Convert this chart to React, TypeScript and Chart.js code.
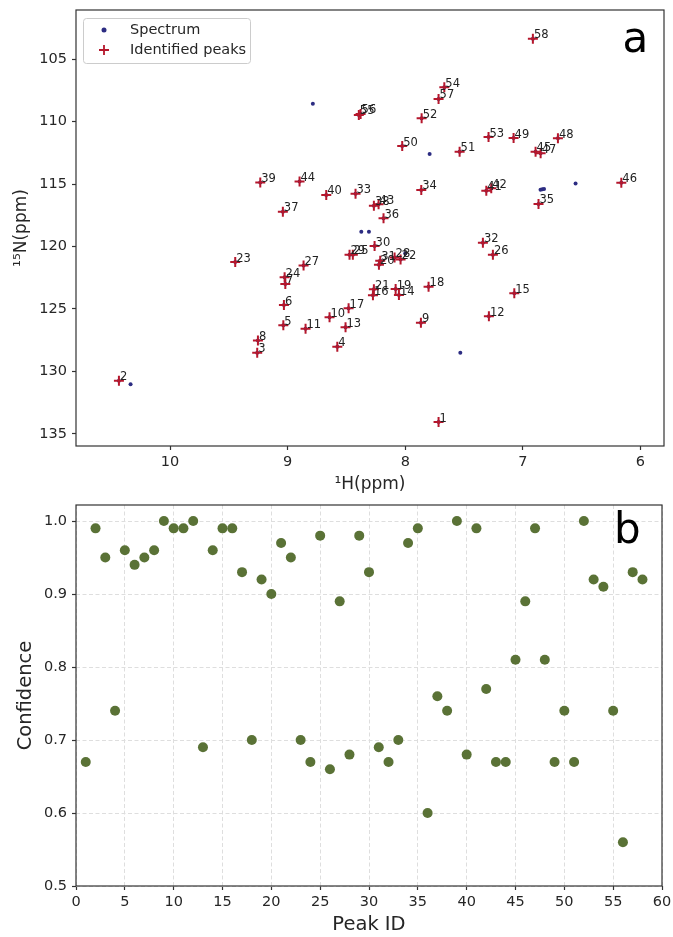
import React, { useEffect, useRef } from "react";
import { Chart, registerables } from "chart.js";
Chart.register(...registerables);

// ---------- Panel a: 1H-15N spectrum ----------
const peakIds = [
  1, 2, 3, 4, 5, 6, 7, 8, 9, 10, 11, 12, 13, 14, 15, 16, 17, 18, 19, 20,
  21, 22, 23, 24, 25, 26, 27, 28, 29, 30, 31, 32, 33, 34, 35, 36, 37, 38, 39, 40,
  41, 42, 43, 44, 45, 46, 47, 48, 49, 50, 51, 52, 53, 54, 55, 56, 57, 58,
];
const peakH = [
  7.717, 10.435, 9.259, 8.578, 9.037, 9.032, 9.02, 9.253, 7.867, 8.644,
  8.848, 7.289, 8.508, 8.054, 7.073, 8.275, 8.482, 7.802, 8.082, 8.224,
  8.267, 8.04, 9.446, 9.026, 8.446, 7.255, 8.865, 8.091, 8.474, 8.261,
  8.213, 7.34, 8.423, 7.864, 6.867, 8.185, 9.041, 8.267, 9.233, 8.672,
  7.311, 7.269, 8.227, 8.899, 6.892, 6.163, 6.849, 6.702, 7.079, 8.026,
  7.538, 7.861, 7.292, 7.668, 8.395, 8.38, 7.717, 6.915,
];
const peakN = [
  134.06, 130.75, 128.51, 128.03, 126.31, 124.69, 123.0, 127.52, 126.1, 125.67,
  126.58, 125.59, 126.47, 123.89, 123.75, 123.91, 124.95, 123.22, 123.41, 121.46,
  123.43, 121.03, 121.24, 122.47, 120.66, 120.66, 121.51, 120.87, 120.66, 119.96,
  121.14, 119.7, 115.77, 115.47, 116.59, 117.74, 117.21, 116.73, 114.86, 115.87,
  115.53, 115.34, 116.62, 114.78, 112.4, 114.89, 112.53, 111.33, 111.31, 111.95,
  112.4, 109.73, 111.23, 107.24, 109.46, 109.38, 108.18, 103.35,
];
// spectrum points that are not under an identified peak
const extraSpecH = [10.336, 8.786, 7.793, 6.552, 6.835, 6.85, 6.82, 8.374, 8.309, 7.532, 8.0];
const extraSpecN = [131.04, 108.56, 112.59, 114.94, 115.42, 115.46, 115.4, 118.81, 118.81, 128.51, 120.54];
const hTicks = [6, 7, 8, 9, 10];
const nTicks = [105, 110, 115, 120, 125, 130, 135];

// ---------- Panel b: confidence ----------
const confIds = peakIds;
const confidence = [
  0.67, 0.99, 0.95, 0.74, 0.96, 0.94, 0.95, 0.96, 1.0, 0.99,
  0.99, 1.0, 0.69, 0.96, 0.99, 0.99, 0.93, 0.7, 0.92, 0.9,
  0.97, 0.95, 0.7, 0.67, 0.98, 0.66, 0.89, 0.68, 0.98, 0.93,
  0.69, 0.67, 0.7, 0.97, 0.99, 0.6, 0.76, 0.74, 1.0, 0.68,
  0.99, 0.77, 0.67, 0.67, 0.81, 0.89, 0.99, 0.81, 0.67, 0.74,
  0.67, 1.0, 0.92, 0.91, 0.74, 0.56, 0.93, 0.92,
];
const idTicks = [0, 5, 10, 15, 20, 25, 30, 35, 40, 45, 50, 55, 60];
const confTicks = [0.5, 0.6, 0.7, 0.8, 0.9, 1.0];

const FONT = "'DejaVu Sans', sans-serif";
const SPEC_COLOR = "#2c2c82";
const PEAK_COLOR = "#b5172c";
const DOT_COLOR = "#5a7236";
const TEXT = "#262626";

const framePlugin = {
  id: "frame",
  afterDraw(chart: any) {
    const { ctx, chartArea: a } = chart;
    ctx.save();
    ctx.strokeStyle = "#333";
    ctx.lineWidth = 1.2;
    ctx.strokeRect(a.left, a.top, a.right - a.left, a.bottom - a.top);
    ctx.restore();
  },
};

const fitY = (w: number) => (s: any) => {
  s.width = w;
  s.paddingTop = 0;
  s.paddingBottom = 0;
};
const fitX = (h: number) => (s: any) => {
  s.height = h;
  s.paddingLeft = 0;
  s.paddingRight = 0;
};

export default function App() {
  const topRef = useRef<HTMLCanvasElement>(null);
  const botRef = useRef<HTMLCanvasElement>(null);

  useEffect(() => {
    const peakData = peakH.map((h, i) => ({ x: h, y: peakN[i] }));
    const specData = peakH
      .map((h, i) => ({ x: h, y: peakN[i] }))
      .concat(extraSpecH.map((h, i) => ({ x: h, y: extraSpecN[i] })));

    const labelPlugin = {
      id: "peakLabels",
      afterDatasetsDraw(chart: any) {
        const { ctx } = chart;
        const xs = chart.scales.x;
        const ys = chart.scales.y;
        ctx.save();
        ctx.fillStyle = "#222";
        ctx.font = `11.5px ${FONT}`;
        ctx.textAlign = "left";
        ctx.textBaseline = "alphabetic";
        peakIds.forEach((id, i) => {
          const px = xs.getPixelForValue(peakH[i]);
          const py = ys.getPixelForValue(peakN[i]);
          ctx.fillText(String(id), px + 1, py - 0.5);
        });
        // legend
        ctx.fillStyle = "rgba(255,255,255,0.85)";
        ctx.strokeStyle = "#cccccc";
        ctx.lineWidth = 1;
        ctx.beginPath();
        (ctx as any).roundRect(83.5, 18.5, 167, 45, 3);
        ctx.fill();
        ctx.stroke();
        ctx.fillStyle = SPEC_COLOR;
        ctx.beginPath();
        ctx.arc(104, 30, 2.5, 0, Math.PI * 2);
        ctx.fill();
        ctx.strokeStyle = PEAK_COLOR;
        ctx.lineWidth = 1.8;
        ctx.beginPath();
        ctx.moveTo(99, 50);
        ctx.lineTo(109, 50);
        ctx.moveTo(104, 45);
        ctx.lineTo(104, 55);
        ctx.stroke();
        ctx.fillStyle = TEXT;
        ctx.font = `14.5px ${FONT}`;
        ctx.textBaseline = "middle";
        ctx.fillText("Spectrum", 130, 30);
        ctx.fillText("Identified peaks", 130, 50);
        // panel letter
        ctx.fillStyle = "#000";
        ctx.font = `42px ${FONT}`;
        ctx.textBaseline = "alphabetic";
        ctx.fillText("a", 622.5, 52);
        ctx.restore();
      },
    };

    const top = new Chart(topRef.current as HTMLCanvasElement, {
      type: "scatter",
      data: {
        datasets: [
          {
            label: "Identified peaks",
            data: peakData,
            pointStyle: "cross",
            pointRadius: 5,
            pointBorderWidth: 2,
            borderColor: PEAK_COLOR,
            backgroundColor: PEAK_COLOR,
          },
          {
            label: "Spectrum",
            data: specData,
            pointStyle: "circle",
            pointRadius: 2,
            pointBorderWidth: 0,
            borderColor: SPEC_COLOR,
            backgroundColor: SPEC_COLOR,
          },
        ],
      },
      options: {
        animation: false,
        responsive: false,
        devicePixelRatio: 1,
        layout: { padding: { left: 0, top: 10, right: 9, bottom: 0 } },
        plugins: { legend: { display: false }, tooltip: { enabled: false } },
        scales: {
          x: {
            type: "linear",
            reverse: true,
            min: 5.8,
            max: 10.8,
            afterBuildTicks: (axis: any) => {
              axis.ticks = hTicks.map((v) => ({ value: v }));
            },
            afterFit: fitX(54),
            grid: { drawOnChartArea: false, tickLength: 4, tickColor: "#333", tickWidth: 1.2 },
            border: { display: false },
            ticks: { font: { family: FONT, size: 14.5 }, color: TEXT, padding: 4, maxRotation: 0 },
            title: {
              display: true,
              text: "¹H(ppm)",
              font: { family: FONT, size: 17 },
              color: TEXT,
              padding: { top: 0, bottom: 5 },
            },
          },
          y: {
            type: "linear",
            reverse: true,
            min: 101.05,
            max: 135.98,
            afterBuildTicks: (axis: any) => {
              axis.ticks = nTicks.map((v) => ({ value: v }));
            },
            afterFit: fitY(76),
            grid: { drawOnChartArea: false, tickLength: 4, tickColor: "#333", tickWidth: 1.2 },
            border: { display: false },
            ticks: { font: { family: FONT, size: 14.5 }, color: TEXT, padding: 5 },
            title: {
              display: true,
              text: "¹⁵N(ppm)",
              font: { family: FONT, size: 17 },
              color: TEXT,
              padding: { top: 11, bottom: 0 },
            },
          },
        },
      } as any,
      plugins: [framePlugin, labelPlugin],
    });

    const letterPlugin = {
      id: "letterB",
      afterDraw(chart: any) {
        const { ctx } = chart;
        ctx.save();
        ctx.fillStyle = "#000";
        ctx.font = `42px ${FONT}`;
        ctx.textAlign = "left";
        ctx.textBaseline = "alphabetic";
        ctx.fillText("b", 614, 43);
        ctx.restore();
      },
    };

    const bot = new Chart(botRef.current as HTMLCanvasElement, {
      type: "scatter",
      data: {
        datasets: [
          {
            label: "Confidence",
            data: confIds.map((id, i) => ({ x: id, y: confidence[i] })),
            pointStyle: "circle",
            pointRadius: 5,
            pointBorderWidth: 0,
            backgroundColor: DOT_COLOR,
            borderColor: DOT_COLOR,
          },
        ],
      },
      options: {
        animation: false,
        responsive: false,
        devicePixelRatio: 1,
        layout: { padding: { left: 0, top: 2, right: 11, bottom: 0 } },
        plugins: { legend: { display: false }, tooltip: { enabled: false } },
        scales: {
          x: {
            type: "linear",
            min: 0,
            max: 60,
            afterBuildTicks: (axis: any) => {
              axis.ticks = idTicks.map((v) => ({ value: v }));
            },
            afterFit: fitX(51),
            grid: { color: "#dedede", lineWidth: 1, tickLength: 4, tickColor: "#333", tickWidth: 1.2 },
            border: { display: false, dash: [4, 2.5] },
            ticks: { font: { family: FONT, size: 14.5 }, color: TEXT, padding: 4, maxRotation: 0 },
            title: {
              display: true,
              text: "Peak ID",
              font: { family: FONT, size: 19.5 },
              color: TEXT,
              padding: { top: 0, bottom: 0 },
            },
          },
          y: {
            type: "linear",
            min: 0.5,
            max: 1.022,
            afterBuildTicks: (axis: any) => {
              axis.ticks = confTicks.map((v) => ({ value: v }));
            },
            afterFit: fitY(76),
            grid: { color: "#dedede", lineWidth: 1, tickLength: 4, tickColor: "#333", tickWidth: 1.2 },
            border: { display: false, dash: [4, 2.5] },
            ticks: {
              font: { family: FONT, size: 14.5 },
              color: TEXT,
              padding: 5,
              callback: (v: any) => Number(v).toFixed(1),
            },
            title: {
              display: true,
              text: "Confidence",
              font: { family: FONT, size: 19.5 },
              color: TEXT,
              padding: { top: 14, bottom: 0 },
            },
          },
        },
      } as any,
      plugins: [framePlugin, letterPlugin],
    });

    return () => {
      top.destroy();
      bot.destroy();
    };
  }, []);

  return (
    <div style={{ position: "absolute", left: 0, top: 0, width: 673, height: 937, background: "#fff" }}>
      <canvas
        ref={topRef}
        width={673}
        height={500}
        style={{ position: "absolute", left: 0, top: 0, width: 673, height: 500 }}
      />
      <canvas
        ref={botRef}
        width={673}
        height={437}
        style={{ position: "absolute", left: 0, top: 500, width: 673, height: 437 }}
      />
    </div>
  );
}
